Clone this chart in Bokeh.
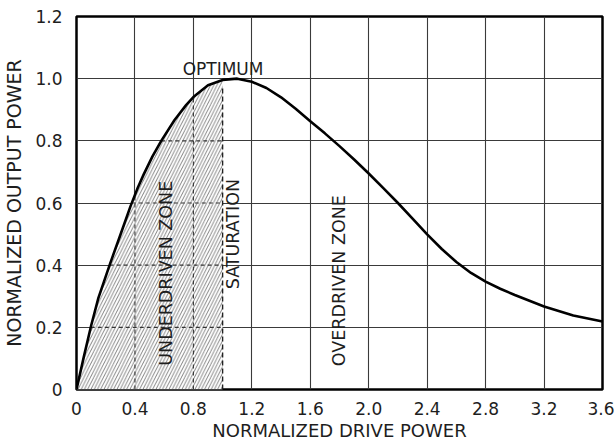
import numpy as np
from bokeh.plotting import figure
from bokeh.models import FixedTicker, Range1d
from bokeh.core.properties import value
from bokeh.embed import file_html
from bokeh.resources import INLINE

# Curve
drive = [0, 0.05, 0.1, 0.15, 0.23, 0.3, 0.37, 0.42, 0.46, 0.52, 0.58, 0.67, 0.75, 0.8, 0.9,
         1.0, 1.1, 1.2, 1.3, 1.4, 1.5, 1.6, 1.7, 1.8, 1.9, 2.0, 2.1, 2.2, 2.3, 2.4, 2.5,
         2.6, 2.7, 2.8, 2.9, 3.0, 3.2, 3.4, 3.6]
output = [0, 0.105, 0.205, 0.295, 0.405, 0.497, 0.59, 0.65, 0.692, 0.75, 0.8, 0.866, 0.915, 0.941, 0.979,
          0.996, 1.0, 0.99, 0.97, 0.94, 0.903, 0.863, 0.824, 0.783, 0.74, 0.695, 0.648, 0.6, 0.55, 0.499, 0.452,
          0.41, 0.375, 0.347, 0.324, 0.304, 0.267, 0.238, 0.219]

x_ticks = [0, 0.4, 0.8, 1.2, 1.6, 2.0, 2.4, 2.8, 3.2, 3.6]
x_tick_labels = ["0", "0.4", "0.8", "1.2", "1.6", "2.0", "2.4", "2.8", "3.2", "3.6"]
y_ticks = [0, 0.2, 0.4, 0.6, 0.8, 1.0, 1.2]
y_tick_labels = ["0", "0.2", "0.4", "0.6", "0.8", "1.0", "1.2"]

saturation_x = 1.0
saturation_top = 0.975
under_grid_x = [0.4, 0.8]
under_grid_y = [0.2, 0.4, 0.6, 0.8]

labels = ["OPTIMUM", "UNDERDRIVEN ZONE", "SATURATION", "OVERDRIVEN ZONE"]
label_x = [1.003, 0.613, 1.073, 1.797]
label_y = [1.03, 0.374, 0.50, 0.35]
label_angle = [0, np.pi / 2, np.pi / 2, np.pi / 2]
label_size = ["17px", "17.5px", "17.5px", "17.5px"]

FONT = "DejaVu Sans"
INK = "#1e1e1e"

p = figure(width=614, height=443, output_backend="svg", toolbar_location=None,
           x_range=Range1d(0, 3.6), y_range=Range1d(0, 1.2),
           min_border_left=76, min_border_right=12, min_border_top=16, min_border_bottom=53)
p.background_fill_color = "white"
p.border_fill_color = "white"
p.outline_line_color = "black"
p.outline_line_width = 2.5

for ax, ticks, labs in ((p.xaxis[0], x_ticks, x_tick_labels), (p.yaxis[0], y_ticks, y_tick_labels)):
    ax.ticker = FixedTicker(ticks=ticks)
    ax.major_label_overrides = {t: l for t, l in zip(ticks, labs)}
    ax.axis_line_color = None
    ax.major_tick_line_color = None
    ax.minor_tick_line_color = None
    ax.major_label_text_font = FONT
    ax.major_label_text_color = INK
    ax.axis_label_text_font = FONT
    ax.axis_label_text_font_style = "normal"
    ax.axis_label_text_color = INK

p.xaxis.axis_label = "NORMALIZED DRIVE POWER"
p.yaxis.axis_label = "NORMALIZED OUTPUT POWER"
p.xaxis.major_label_text_font_size = "17px"
p.yaxis.major_label_text_font_size = "17px"
p.xaxis.axis_label_text_font_size = "18px"
p.yaxis.axis_label_text_font_size = "19px"
p.xaxis.major_label_standoff = 6
p.xaxis.axis_label_standoff = 2
p.yaxis.major_label_standoff = 8
p.yaxis.axis_label_standoff = 7

p.xgrid.ticker = FixedTicker(ticks=x_ticks)
p.ygrid.ticker = FixedTicker(ticks=y_ticks)
for g in (p.xgrid[0], p.ygrid[0]):
    g.grid_line_color = "#3a3a3a"
    g.grid_line_width = 1.1
    g.grid_line_alpha = 1.0

# hatched underdriven region (white fill hides solid grid)
dx = np.array(drive)
dy = np.array(output)
mask = dx <= saturation_x
hx = list(dx[mask]) + [saturation_x]
hy = list(dy[mask]) + [0]
p.patch(hx, hy, fill_color="white", line_color=None,
        hatch_pattern="/", hatch_color="#4a4a4a", hatch_scale=6.5, hatch_weight=0.7)

# dashed grid inside the hatch
peak = int(np.argmax(dy)) + 1
rise_x = dx[:peak]
rise_y = dy[:peak]
vx0 = under_grid_x
vy1 = list(np.interp(under_grid_x, dx, dy))
p.segment(x0=vx0, y0=[0] * len(vx0), x1=vx0, y1=vy1,
          line_color="#333333", line_width=1.1, line_dash="4 3")
hx0 = list(np.interp(under_grid_y, rise_y, rise_x))
p.segment(x0=hx0, y0=under_grid_y, x1=[saturation_x] * len(under_grid_y), y1=under_grid_y,
          line_color="#333333", line_width=1.1, line_dash="4 3")
p.segment(x0=[saturation_x], y0=[0], x1=[saturation_x], y1=[saturation_top],
          line_color="#222222", line_width=1.4, line_dash="5 3")

p.line(drive, output, line_color="black", line_width=2.6, line_join="round")

for t, x, y, a, s in zip(labels, label_x, label_y, label_angle, label_size):
    p.text(x=[x], y=[y], text=[t], angle=a, text_align="center", text_baseline="middle",
           text_font=value(FONT), text_font_size=s, text_color=INK)

open("out.html", "w").write(file_html(p, INLINE))
